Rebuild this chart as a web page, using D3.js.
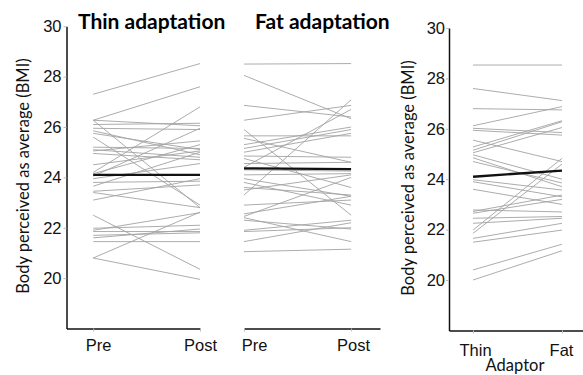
<!DOCTYPE html>
<html>
<head>
<meta charset="utf-8">
<script src="https://cdn.jsdelivr.net/npm/d3@7"></script>
<style>
  body { margin: 0; background: #fff; }
  svg { font-family: Lato, "Open Sans", sans-serif; }
</style>
</head>
<body>
<div id="chart"></div>
<script>
// BMI values, one entry per participant
const yTicks = [20, 22, 24, 26, 28, 30];
const phases = ['Pre', 'Post'];
const adaptors = ['Thin', 'Fat'];

const thinPre  = [27.3, 26.27, 26.27, 26.27, 25.6, 26.1, 25.95, 25.85, 25.75, 25.2, 25.1, 25.05, 24.95, 24.5, 24.2, 24.15, 24.05, 23.95, 23.8, 23.65, 23.45, 23.4, 23.1, 22.5, 21.98, 21.9, 21.85, 21.7, 21.6, 21.45, 20.8, 20.8];
const thinPost = [28.52, 27.6, 26.05, 22.8, 22.9, 26.15, 25.9, 24.9, 25.1, 25.15, 24.8, 25.45, 24.7, 25.05, 26.8, 25.3, 25.95, 24.55, 23.85, 25.0, 23.7, 22.8, 23.95, 20.35, 22.1, 22.6, 21.85, 21.8, 21.95, 21.45, 22.62, 19.95];

const fatPre  = [28.5, 28.05, 26.86, 26.27, 25.9, 25.65, 25.55, 25.3, 25.15, 25.0, 24.85, 24.75, 24.55, 24.4, 24.3, 24.1, 23.95, 23.8, 23.6, 23.5, 23.3, 22.9, 22.55, 22.45, 22.3, 21.9, 21.85, 21.45, 22.4, 21.05];
const fatPost = [28.52, 26.33, 26.4, 26.86, 22.5, 25.65, 24.6, 26.0, 25.9, 25.75, 24.8, 23.6, 24.6, 26.7, 24.25, 24.15, 23.25, 22.9, 23.3, 24.1, 27.08, 23.1, 23.25, 24.0, 21.95, 22.3, 22.0, 22.2, 21.45, 21.15];

const adaptThin = [28.53, 27.6, 26.8, 26.12, 26.02, 25.94, 25.55, 25.28, 25.15, 25.05, 24.97, 24.85, 24.7, 23.98, 23.9, 23.6, 22.78, 22.72, 22.65, 22.45, 22.25, 21.98, 21.85, 21.65, 21.5, 20.4, 20.0];
const adaptFat  = [28.53, 27.12, 26.75, 26.88, 25.85, 25.75, 24.7, 26.32, 26.28, 26.05, 24.0, 23.7, 23.85, 23.57, 23.3, 23.0, 22.7, 23.37, 23.2, 22.52, 22.45, 24.83, 24.6, 22.25, 21.98, 21.42, 21.16];

// group means (thick black lines)
const meanThin  = [24.1, 24.1];
const meanFat   = [24.36, 24.33];
const meanAdapt = [24.1, 24.34];

const width = 583, height = 375;

const svg = d3.select('#chart')
  .append('svg')
  .attr('width', width)
  .attr('height', height);

const yMain = d3.scaleLinear().domain([18, 30]).range([328.5, 26.3]);
const yRight = d3.scaleLinear().domain([18, 30]).range([330.4, 28]);

function drawPanel(opts) {
  const { x, y, cats, a, b, mean, yAxisX, labelDx, labelPad } = opts;
  const g = svg.append('g');

  const line = d3.line()
    .x((d, i) => x(i))
    .y(d => y(d));

  g.selectAll('.pair')
    .data(a.map((d, i) => [d, b[i]]))
    .enter()
    .append('path')
    .attr('d', line)
    .attr('fill', 'none')
    .attr('stroke', '#a3a3a3')
    .attr('stroke-width', 0.9);

  g.append('path')
    .attr('d', line(mean))
    .attr('fill', 'none')
    .attr('stroke', '#111')
    .attr('stroke-width', 2.4);

  // x axis
  const xAxis = g.append('g')
    .attr('transform', `translate(0, ${y.range()[0]})`)
    .call(d3.axisBottom(x)
      .tickValues([0, 1])
      .tickFormat(i => cats[i])
      .tickSize(3)
      .tickSizeOuter(0)
      .tickPadding(labelPad));
  styleAxis(xAxis);
  xAxis.selectAll('text').attr('dx', (d, i) => labelDx[i]);

  if (yAxisX !== undefined) {
    const yAxis = g.append('g')
      .attr('transform', `translate(${yAxisX}, 0)`)
      .call(d3.axisLeft(y)
        .tickValues(yTicks)
        .tickSize(3)
        .tickSizeOuter(0)
        .tickPadding(opts.yPad));
    styleAxis(yAxis);
  }
}

function styleAxis(ax) {
  ax.select('.domain').attr('stroke', '#111').attr('stroke-width', 1.5);
  ax.selectAll('.tick line').attr('stroke', '#bbb');
  ax.selectAll('.tick text')
    .attr('fill', '#111')
    .style('font-size', '16.5px');
}

drawPanel({
  x: d3.scaleLinear().domain([-0.25, 1]).range([66.5, 200]),
  y: yMain, cats: phases, a: thinPre, b: thinPost, mean: meanThin,
  yAxisX: 66.5, yPad: 2, labelDx: [5, 0], labelPad: 8
});

drawPanel({
  x: d3.scaleLinear().domain([0, 1.27]).range([244, 380]),
  y: yMain, cats: phases, a: fatPre, b: fatPost, mean: meanFat,
  labelDx: [10, 2], labelPad: 8
});

drawPanel({
  x: d3.scaleLinear().domain([-0.27, 1.236]).range([449, 583]),
  y: yRight, cats: adaptors, a: adaptThin, b: adaptFat, mean: meanAdapt,
  yAxisX: 449, yPad: 1, labelDx: [2, -1], labelPad: 11
});

// titles
svg.append('text')
  .attr('x', 78).attr('y', 29)
  .style('font-size', '21px').style('font-weight', 'bold')
  .text('Thin adaptation');

svg.append('text')
  .attr('x', 255).attr('y', 29)
  .style('font-size', '21px').style('font-weight', 'bold')
  .text('Fat adaptation');

// y titles
[[29, 176], [414, 178]].forEach(([tx, ty]) => {
  svg.append('text')
    .attr('transform', `translate(${tx}, ${ty}) rotate(-90)`)
    .attr('text-anchor', 'middle')
    .style('font-size', '16.5px')
    .attr('fill', '#111')
    .text('Body perceived as average (BMI)');
});

svg.append('text')
  .attr('x', 515).attr('y', 371)
  .attr('text-anchor', 'middle')
  .style('font-size', '16.5px')
  .attr('fill', '#111')
  .text('Adaptor');
</script>
</body>
</html>
